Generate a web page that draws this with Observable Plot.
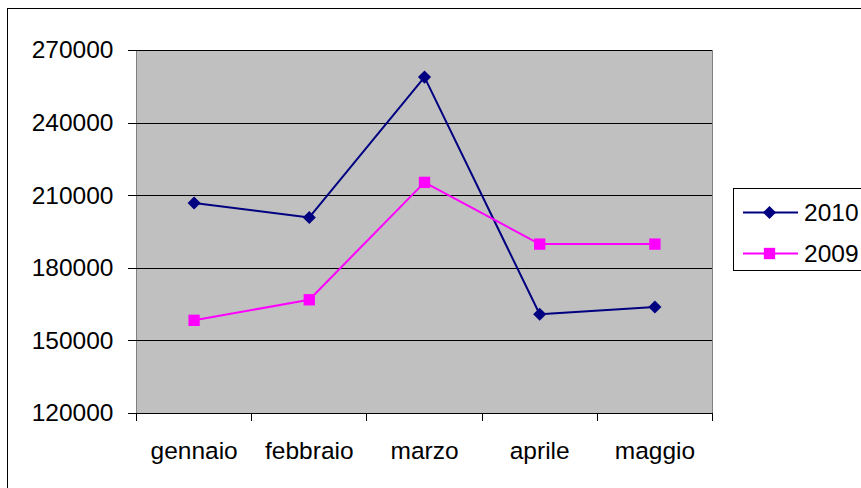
<!DOCTYPE html>
<html>
<head>
<meta charset="utf-8">
<script src="https://cdn.jsdelivr.net/npm/d3@7"></script>
<script src="https://cdn.jsdelivr.net/npm/@observablehq/plot@0.6"></script>
<style>
  html, body { margin: 0; padding: 0; background: #fff; overflow: hidden; }
  #wrap { position: relative; width: 861px; height: 488px; overflow: hidden; font-family: "Liberation Sans", Arial, sans-serif; }
  #border { position: absolute; left: 7px; top: 8px; width: 900px; height: 520px; border: 1px solid #000; box-sizing: border-box; }
  #plot { position: absolute; left: 0; top: 0; }
  #legend { position: absolute; left: 733px; top: 188px; width: 160px; height: 83px; border: 1px solid #000; box-sizing: border-box; background: #fff; }
</style>
</head>
<body>
<div id="wrap">
  <div id="border"></div>
  <div id="plot"></div>
  <div id="legend"></div>
</div>
<script>
const months = ["gennaio", "febbraio", "marzo", "aprile", "maggio"];
const values2010 = [207000, 201000, 259000, 161000, 164000];
const values2009 = [158500, 167000, 215500, 190000, 190000];
const seriesNames = ["2010", "2009"];
const seriesColors = ["#000080", "#FF00FF"];
const seriesSymbols = ["diamond2", "square"];
const yTicks = [120000, 150000, 180000, 210000, 240000, 270000];

const seriesValues = [values2010, values2009];
const rows = [];
seriesNames.forEach((name, s) => {
  months.forEach((m, i) => rows.push({series: name, i, month: m, value: seriesValues[s][i]}));
});

const idx = d3.range(months.length);
const bounds = d3.range(months.length + 1).map(i => i - 0.5);

const marks = [
  Plot.frame({fill: "#C0C0C0", stroke: "#808080", shapeRendering: "crispEdges"}),
  Plot.gridY(yTicks, {stroke: "#000", strokeOpacity: 1, strokeWidth: 1, shapeRendering: "crispEdges"}),
  Plot.axisY(yTicks, {tickSize: 8, tickPadding: 15, tickFormat: d => String(d), label: null, stroke: "#000", shapeRendering: "crispEdges"}),
  Plot.axisX(bounds, {tickSize: 8, tickFormat: () => "", label: null, stroke: "#000", shapeRendering: "crispEdges"}),
  Plot.axisX(idx, {tickSize: 0, tickPadding: 28, tickFormat: i => months[i], label: null}),
  Plot.ruleY([yTicks[0]], {stroke: "#000", shapeRendering: "crispEdges"})
];
seriesNames.forEach((name, s) => {
  const data = rows.filter(d => d.series === name);
  marks.push(Plot.line(data, {x: "i", y: "value", stroke: seriesColors[s], strokeWidth: 2}));
  marks.push(Plot.dot(data, {x: "i", y: "value", fill: seriesColors[s], stroke: "none",
    symbol: () => seriesSymbols[s], r: s === 0 ? 5.9 : 6.4}));
});

const chart = Plot.plot({
  width: 861,
  height: 488,
  marginLeft: 136,
  marginRight: 149,
  marginTop: 50,
  marginBottom: 75,
  style: {fontFamily: "'Liberation Sans', Arial, sans-serif", fontSize: "24.5px", color: "#000", background: "transparent", overflow: "visible"},
  x: {type: "linear", domain: [-0.5, months.length - 0.5], axis: null},
  y: {domain: [yTicks[0], yTicks[yTicks.length - 1]], axis: null},
  symbol: {type: "identity"},
  marks
});
document.getElementById("plot").appendChild(chart);

// Legend
const ns = "http://www.w3.org/2000/svg";
const lsvg = document.createElementNS(ns, "svg");
lsvg.setAttribute("width", 160);
lsvg.setAttribute("height", 83);
lsvg.style.position = "absolute";
lsvg.style.left = "-1px";
lsvg.style.top = "-1px";
lsvg.style.overflow = "visible";
seriesNames.forEach((name, s) => {
  const y = 24.5 + s * 41;
  const line = document.createElementNS(ns, "line");
  line.setAttribute("x1", 10); line.setAttribute("x2", 65);
  line.setAttribute("y1", y); line.setAttribute("y2", y);
  line.setAttribute("stroke", seriesColors[s]); line.setAttribute("stroke-width", 2);
  lsvg.appendChild(line);
  const sym = document.createElementNS(ns, "path");
  const symType = s === 0 ? d3.symbolDiamond2 : d3.symbolSquare;
  const r = s === 0 ? 5.9 : 6.4;
  sym.setAttribute("d", d3.symbol(symType, r * r * Math.PI)());
  sym.setAttribute("transform", `translate(36.5,${y})`);
  sym.setAttribute("fill", seriesColors[s]);
  lsvg.appendChild(sym);
  const t = document.createElementNS(ns, "text");
  t.setAttribute("x", 71); t.setAttribute("y", y);
  t.setAttribute("dy", "0.35em");
  t.setAttribute("font-size", "24.5px");
  t.setAttribute("font-family", "'Liberation Sans', Arial, sans-serif");
  t.setAttribute("fill", "#000");
  t.textContent = name;
  lsvg.appendChild(t);
});
document.getElementById("legend").appendChild(lsvg);
</script>
</body>
</html>
